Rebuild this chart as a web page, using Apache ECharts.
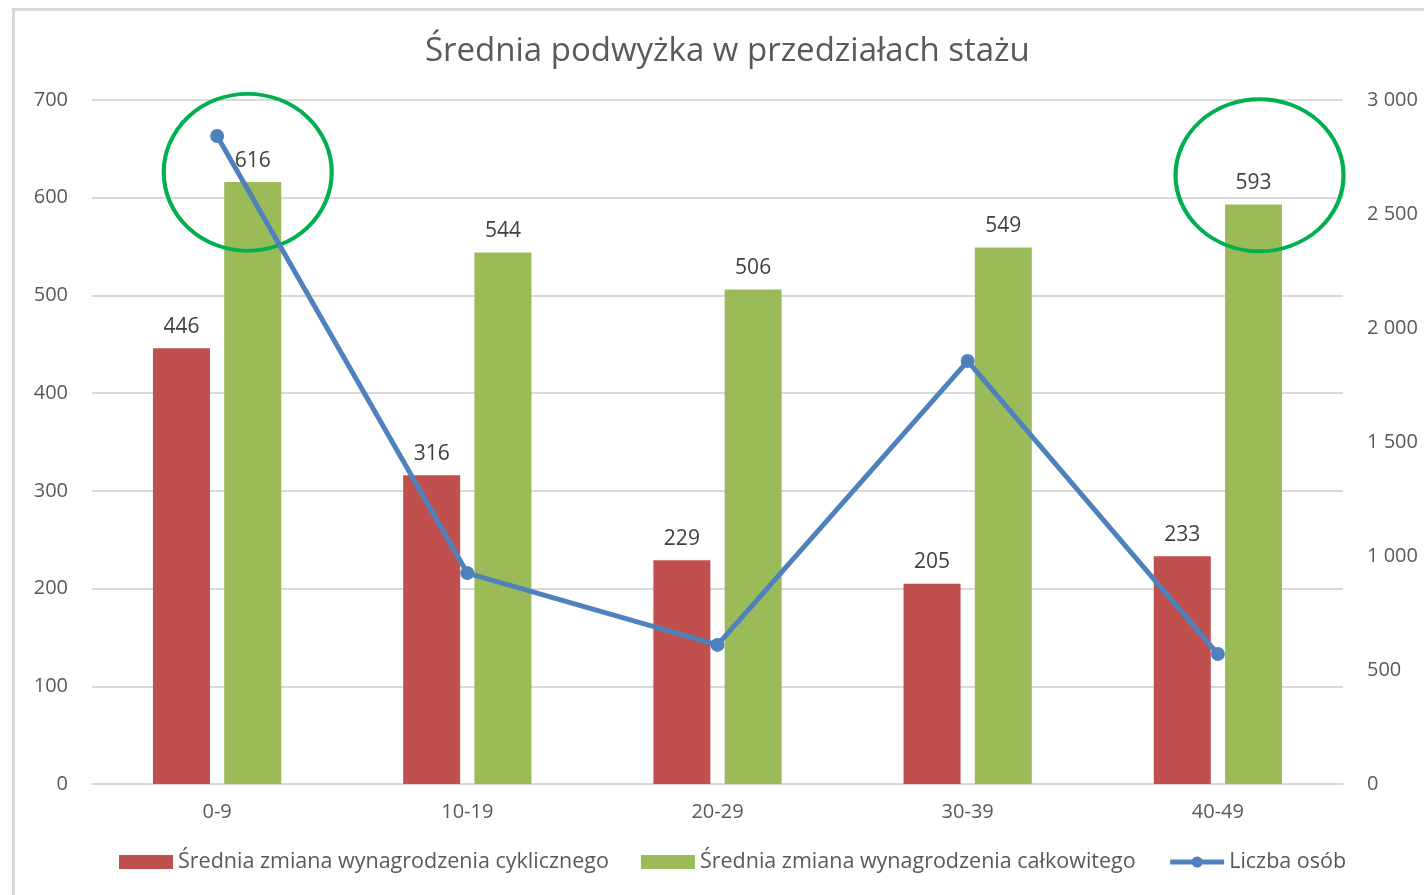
<!DOCTYPE html>
<html>
<head>
<meta charset="utf-8">
<script src="https://cdn.jsdelivr.net/npm/echarts@6/dist/echarts.min.js"></script>
<style>
  html, body { margin: 0; padding: 0; background: #fff; }
  #frame {
    position: absolute; left: 12px; top: 8px; right: 0; bottom: 0;
    border-left: 3px solid #d9d9d9; border-top: 3px solid #d9d9d9;
  }
  #main { position: absolute; left: 0; top: 0; width: 1424px; height: 895px; }
</style>
</head>
<body>
<div id="frame"></div>
<div id="main"></div>
<script>
const categories = ["0-9", "10-19", "20-29", "30-39", "40-49"];
const cykliczne = [446, 316, 229, 205, 233];
const calkowite = [616, 544, 506, 549, 593];
const liczbaOsob = [2842, 925, 610, 1855, 570];

const font = "'Open Sans', 'Noto Sans', sans-serif";
const fmtSpace = v => String(v).replace(/\B(?=(\d{3})+(?!\d))/g, " ");

let myEchart = echarts.init(document.getElementById("main"));
let option = {
  animation: false,
  title: {
    text: "Średnia podwyżka w przedziałach stażu",
    left: 420,
    top: 30,
    textStyle: { fontFamily: font, fontSize: 33, fontWeight: "normal", color: "#595959" },
  },
  legend: {
    bottom: 17,
    left: 114,
    itemWidth: 54,
    itemHeight: 14,
    itemGap: 32,
    textStyle: { fontFamily: font, fontSize: 21.5, color: "#595959" },
    data: [
      { name: "Średnia zmiana wynagrodzenia cyklicznego", icon: "rect" },
      { name: "Średnia zmiana wynagrodzenia całkowitego", icon: "rect" },
      { name: "Liczba osób", lineStyle: { width: 5 } },
    ],
  },
  grid: { left: 92, right: 81, top: 100, bottom: 111 },
  xAxis: {
    type: "category",
    data: categories,
    axisLine: { lineStyle: { color: "#d9d9d9", width: 2 } },
    axisTick: { show: false },
    axisLabel: { fontFamily: font, fontSize: 20, color: "#595959", margin: 18 },
  },
  yAxis: [
    {
      type: "value",
      min: 0,
      max: 700,
      interval: 100,
      axisLine: { show: false },
      axisTick: { show: false },
      splitLine: { lineStyle: { color: "#d9d9d9", width: 2 } },
      axisLabel: { fontFamily: font, fontSize: 20, color: "#595959", margin: 24 },
    },
    {
      type: "value",
      min: 0,
      max: 3000,
      interval: 500,
      axisLine: { show: false },
      axisTick: { show: false },
      splitLine: { show: false },
      axisLabel: { fontFamily: font, fontSize: 20, color: "#595959", margin: 24, formatter: fmtSpace },
    },
  ],
  series: [
    {
      name: "Średnia zmiana wynagrodzenia cyklicznego",
      type: "bar",
      data: cykliczne,
      barWidth: 57,
      barGap: "25%",
      itemStyle: { color: "#C0504D" },
      label: { show: true, position: "top", distance: 11, fontFamily: font, fontSize: 21, color: "#404040" },
    },
    {
      name: "Średnia zmiana wynagrodzenia całkowitego",
      type: "bar",
      data: calkowite,
      barWidth: 57,
      itemStyle: { color: "#9BBB59" },
      label: { show: true, position: "top", distance: 11, fontFamily: font, fontSize: 21, color: "#404040" },
      markPoint: {
        symbol: "circle",
        silent: true,
        itemStyle: { color: "rgba(0,0,0,0)", borderColor: "#00B050", borderWidth: 4 },
        label: { show: false },
        data: [
          { coord: [0, 626], symbolOffset: [-5, 0], symbolSize: [168, 157] },
          { coord: [4, 623], symbolOffset: [6, 0], symbolSize: [168, 152] },
        ],
      },
    },
    {
      name: "Liczba osób",
      type: "line",
      yAxisIndex: 1,
      data: liczbaOsob,
      symbol: "circle",
      symbolSize: 14,
      z: 5,
      lineStyle: { color: "#4F81BD", width: 5 },
      itemStyle: { color: "#4F81BD" },
    },
  ],
};
myEchart.setOption(option, true);
</script>
</body>
</html>
